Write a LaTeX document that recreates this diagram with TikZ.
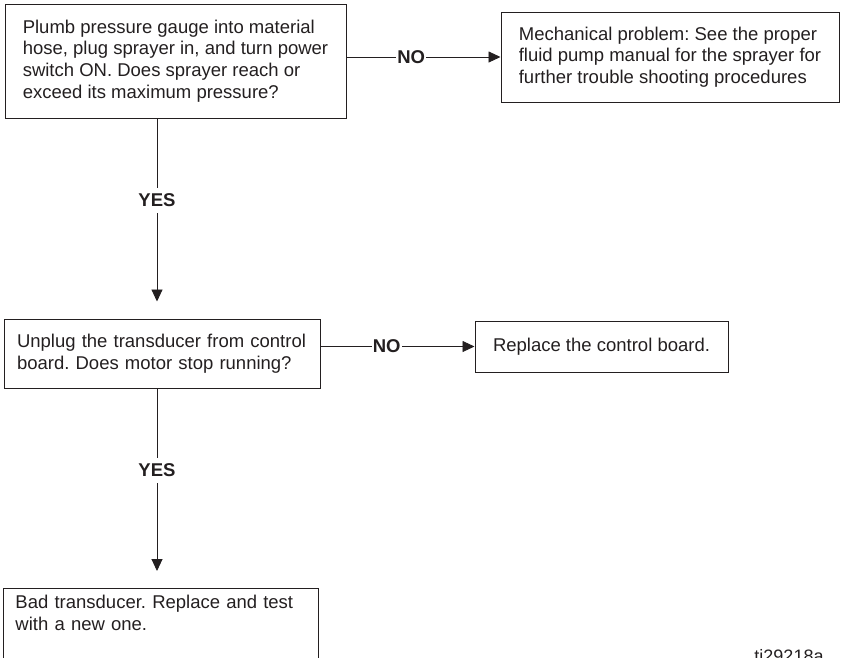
\documentclass[tikz,border=0pt]{standalone}
\usepackage{fontspec}
\setmainfont{Liberation Sans}
\usetikzlibrary{arrows.meta}
\definecolor{ink}{HTML}{231F20}
\frenchspacing

\tikzset{
  stepbox/.style={draw=ink, line width=1pt, text=ink, align=left, inner ysep=0pt,
    font=\fontsize{18.5}{21.7}\selectfont},
  answer/.style={fill=white, text=ink, inner xsep=1pt, inner ysep=6pt,
    font=\fontsize{18.5}{20}\selectfont\bfseries},
  flow/.style={draw=ink, line width=0.9pt, -{Triangle[length=12pt,width=11pt]}},
}

\begin{document}
\begin{tikzpicture}[x=1pt,y=-1pt]
  \useasboundingbox (0,0) rectangle (842,657);
  \clip (0,0) rectangle (842,657);
  % first check: pressure gauge
  \node[stepbox, minimum width=341pt, minimum height=114pt] (gauge) at (175.5,61)
    {Plumb pressure gauge into material\\hose, plug sprayer in, and turn power\\switch ON. Does sprayer reach or\\exceed its maximum pressure?};
  \node[stepbox, minimum width=338pt, minimum height=90pt] (pump) at (670,57)
    {Mechanical problem: See the proper\\fluid pump manual for the sprayer for\\further trouble shooting procedures};
  % second check: transducer
  \node[stepbox, text width=290pt, inner xsep=13pt, minimum height=69pt] (unplug) at (162,353.5)
    {Unplug the transducer from control\\board. Does motor stop running?};
  \node[stepbox, minimum width=253pt, minimum height=51pt] (board) at (601.5,346.5)
    {Replace the control board.};
  % last box runs off the page
  \node[stepbox, anchor=north west, text width=291pt, inner xsep=12pt, inner ysep=7pt] (transducer) at (3,588)
    {Bad transducer. Replace and test\\with a new one.\\\rule{0pt}{40pt}};
  \node[text=ink, font=\fontsize{18}{20}\selectfont, anchor=base] (figid) at (789,662) {ti29218a};

  % connectors
  \coordinate (spine) at (157,0);
  \draw[flow] (gauge.east |- pump.west) -- node[answer,pos=.42]{NO} (pump.west);
  \draw[flow, shorten >=17pt] (gauge.south -| spine) -- node[answer,pos=.41]{YES} (unplug.north -| spine);
  \draw[flow] (unplug.east |- board.west) -- node[answer,pos=.43]{NO} (board.west);
  \draw[flow, shorten >=17pt] (unplug.south -| spine) -- node[answer,pos=.41]{YES} (transducer.north -| spine);
\end{tikzpicture}
\end{document}
